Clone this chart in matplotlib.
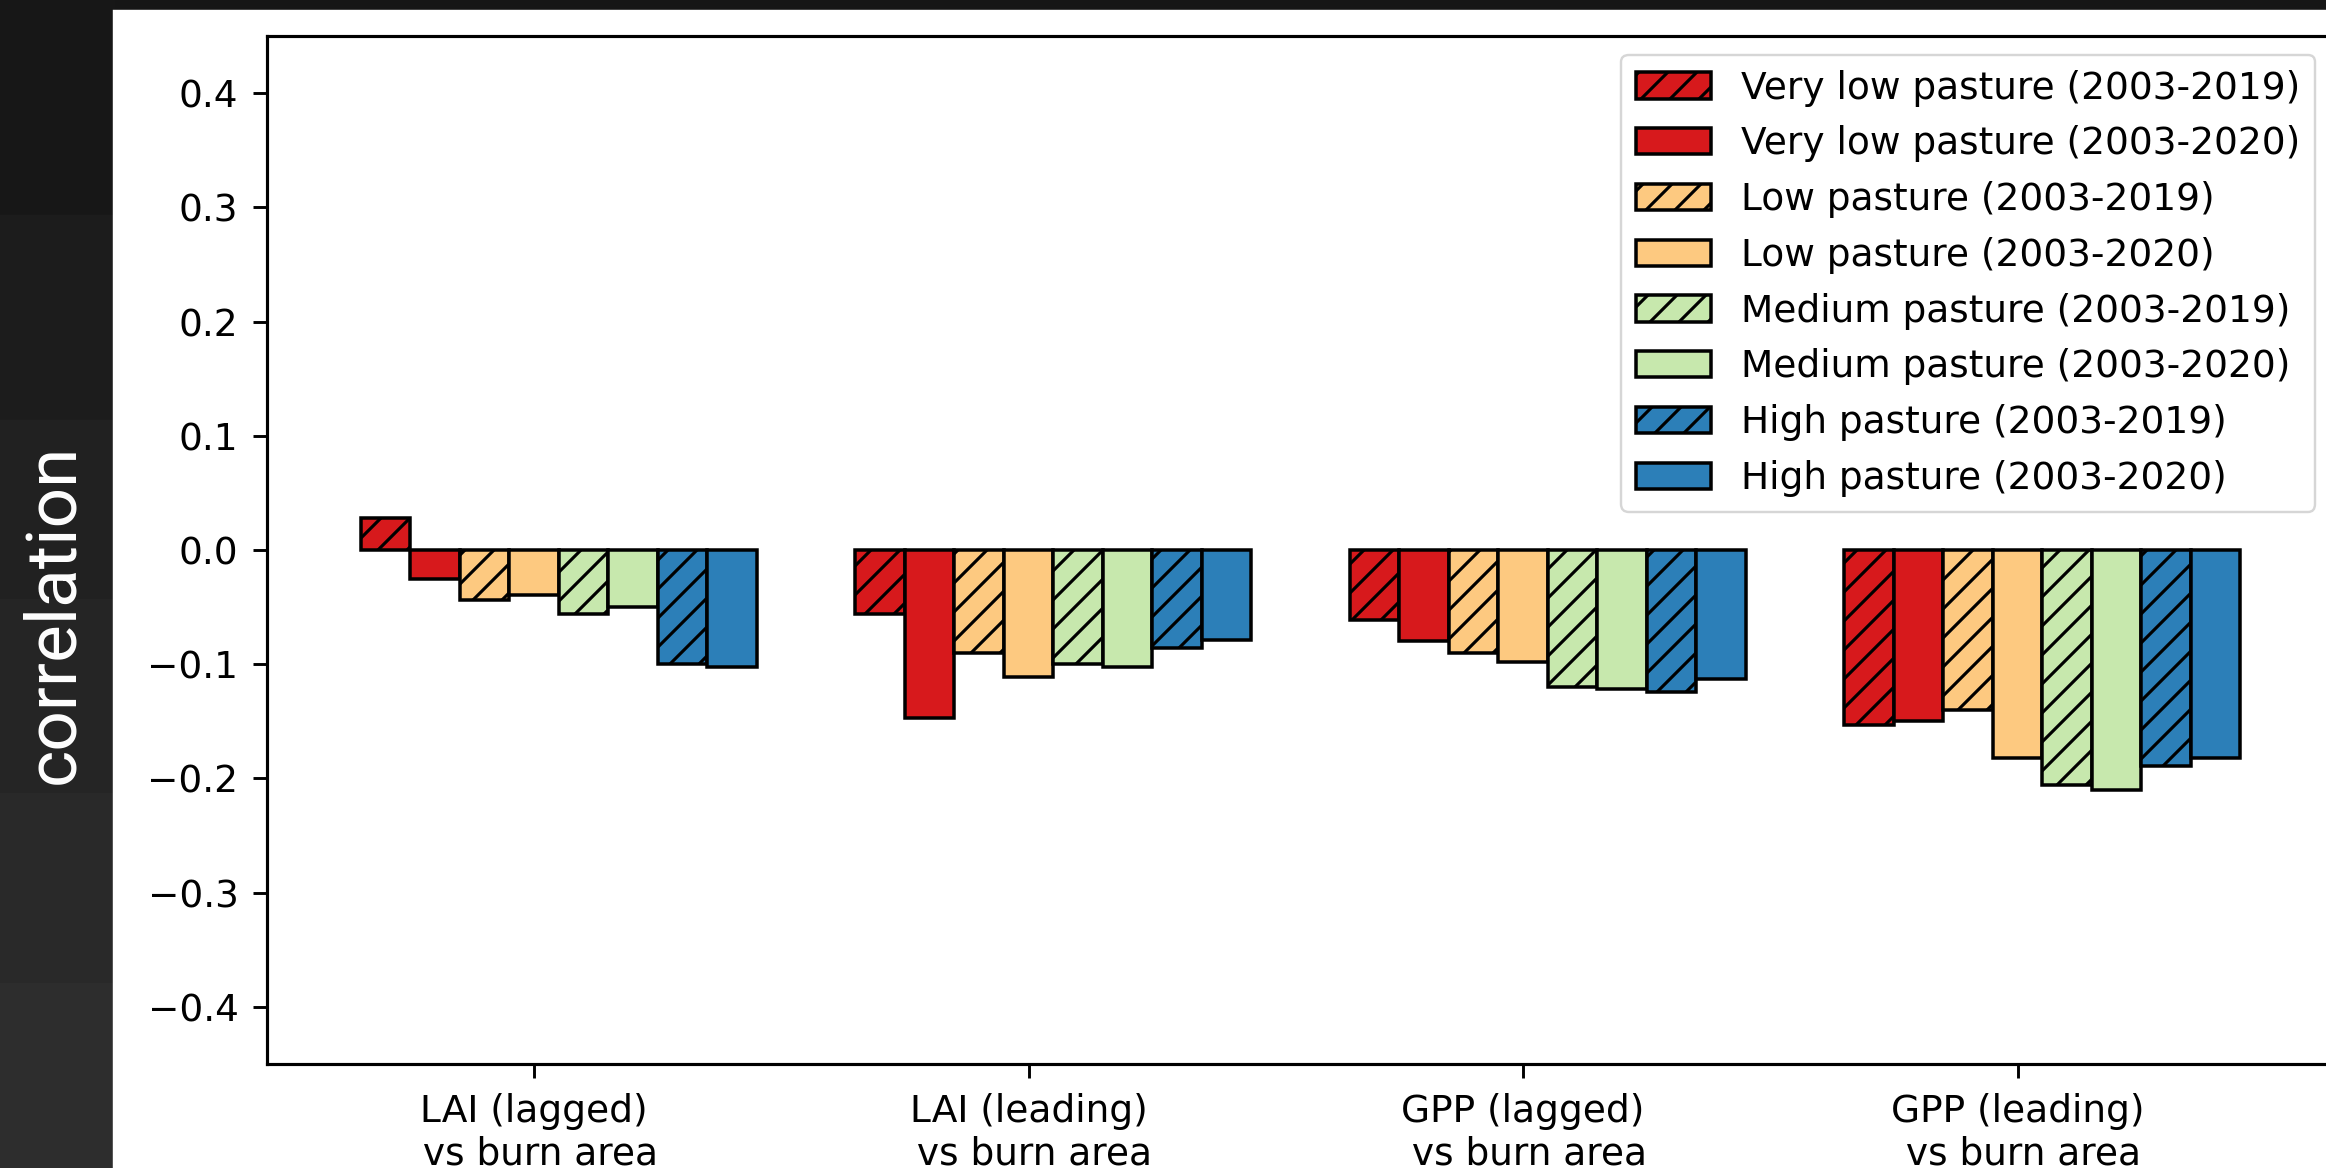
import numpy as np
import matplotlib
matplotlib.use("Agg")
import matplotlib.pyplot as plt
from matplotlib.patches import Rectangle

# data
groups = ["LAI (lagged)\n vs burn area", "LAI (leading)\n vs burn area",
          "GPP (lagged)\n vs burn area", "GPP (leading)\n vs burn area"]
series_labels = ["Very low pasture (2003-2019)", "Very low pasture (2003-2020)",
                 "Low pasture (2003-2019)", "Low pasture (2003-2020)",
                 "Medium pasture (2003-2019)", "Medium pasture (2003-2020)",
                 "High pasture (2003-2019)", "High pasture (2003-2020)"]
vlow_2019 = [0.028, -0.056, -0.061, -0.153]
vlow_2020 = [-0.025, -0.147, -0.080, -0.150]
low_2019 = [-0.044, -0.090, -0.090, -0.140]
low_2020 = [-0.039, -0.111, -0.098, -0.182]
med_2019 = [-0.056, -0.100, -0.120, -0.206]
med_2020 = [-0.050, -0.102, -0.122, -0.210]
high_2019 = [-0.100, -0.086, -0.124, -0.189]
high_2020 = [-0.102, -0.079, -0.113, -0.182]

series_values = [vlow_2019, vlow_2020, low_2019, low_2020,
                 med_2019, med_2020, high_2019, high_2020]
colors = ["#d7191c", "#d7191c", "#fdc980", "#fdc980",
          "#c7e8ad", "#c7e8ad", "#2c7fb8", "#2c7fb8"]

W, H, DPI = 2326, 1168, 174
plt.rcParams["hatch.linewidth"] = 1.3
plt.rcParams["font.family"] = "DejaVu Sans"

fig = plt.figure(figsize=(W / DPI, H / DPI), dpi=DPI, facecolor="#161616")

# dark screenshot frame on the left, white panel behind the chart
band_edges = [0, 216, 421, 600, 794, 984, 1168]
band_colors = ["#171717", "#1c1c1c", "#212121", "#252525", "#292929", "#2d2d2d"]
for (y0, y1), c in zip(zip(band_edges[:-1], band_edges[1:]), band_colors):
    fig.add_artist(Rectangle((0, 1 - y1 / H), 114 / W, (y1 - y0) / H,
                             transform=fig.transFigure, color=c, zorder=0))
fig.add_artist(Rectangle((114 / W, 0), 1 - 114 / W, 1 - 11 / H,
                         transform=fig.transFigure, color="white", zorder=0))
fig.text(54 / W, 1 - 614 / H, "correlation", rotation=90, color="white",
         fontsize=29.5, family="Roboto", ha="center", va="center")

ax = fig.add_axes([267 / W, 1 - 1064 / H, 2067 / W, (1064 - 36) / H])

x = np.arange(len(groups))
width = 0.1
for i, (vals, lab, col) in enumerate(zip(series_values, series_labels, colors)):
    ax.bar(x + (i - 3) * width, vals, width=width, color=col,
           edgecolor="black", linewidth=1.45,
           hatch="//" if i % 2 == 0 else None, label=lab)

ax.set_ylim(-0.45, 0.45)
ax.set_yticks(np.arange(-0.4, 0.41, 0.1))
ax.set_xticks(x)
ax.set_xticklabels(groups)
ax.tick_params(labelsize=15.5, length=5.8, width=1.2, pad=6)
for sp in ax.spines.values():
    sp.set_linewidth(1.3)

ax.legend(loc="upper right", fontsize=15.5, labelspacing=0.5,
          edgecolor="0.8", framealpha=0.8)

fig.savefig("out.png", dpi=DPI, facecolor=fig.get_facecolor())
